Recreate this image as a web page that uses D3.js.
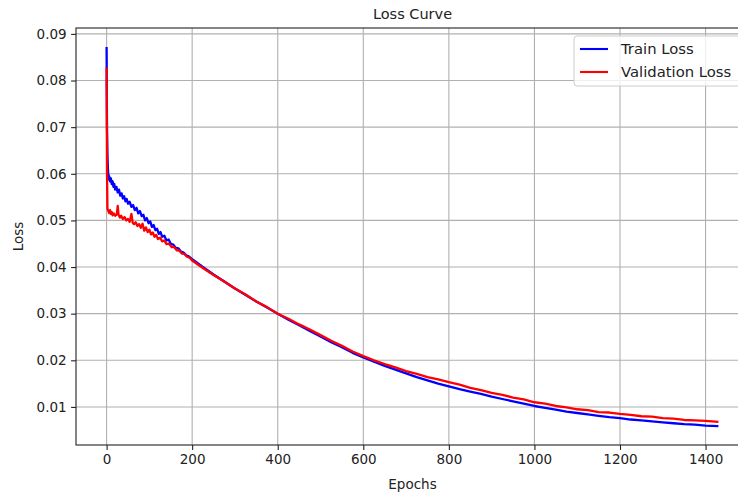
<!DOCTYPE html>
<html>
<head>
<meta charset="utf-8">
<script src="https://cdn.jsdelivr.net/npm/d3@7"></script>
<style>
  body { margin: 0; background: #fff; }
  svg { font-family: "DejaVu Sans", sans-serif; }
</style>
</head>
<body>
<svg width="738" height="495"></svg>
<script>
// values
const trainEpochs = [0, 1, 2, 3, 4, 5, 6, 8, 10, 12, 14, 16, 18, 20, 23, 26, 29, 32, 35, 38, 41, 44, 47, 50,
  54, 58, 62, 66, 70, 74, 78, 82, 86, 90, 94, 98, 102, 106, 110, 114, 118, 122, 126, 130, 135, 140, 145,
  150, 156, 162, 168, 174, 180, 186, 192, 200, 225, 250, 275, 300, 325, 350, 375, 400, 425, 450, 475,
  500, 525, 550, 575, 600, 625, 650, 675, 700, 725, 750, 775, 800, 825, 850, 875, 900, 925, 950, 975,
  1000, 1025, 1050, 1075, 1100, 1125, 1150, 1175, 1200, 1225, 1250, 1275, 1300, 1325, 1350, 1375, 1400, 1430];
const trainLoss = [0.0872, 0.0700, 0.0640, 0.0612, 0.0598, 0.0588, 0.0595, 0.0584, 0.0590, 0.0578, 0.0584,
  0.0572, 0.0578, 0.0566, 0.0572, 0.0560, 0.0566, 0.0553, 0.0558, 0.0547, 0.0552, 0.0541, 0.0546, 0.0536,
  0.0540, 0.0529, 0.0533, 0.0522, 0.0527, 0.0515, 0.0520, 0.0509, 0.0512, 0.0500, 0.0505, 0.0494, 0.0498,
  0.0486, 0.0490, 0.0479, 0.0482, 0.0471, 0.0475, 0.0465, 0.0467, 0.0457, 0.0459, 0.0450, 0.0448, 0.0441,
  0.0440, 0.0433, 0.0431, 0.0425, 0.0423, 0.0417, 0.0400, 0.0384, 0.0369, 0.0354, 0.0340, 0.0326, 0.0313,
  0.0300, 0.0287, 0.0275, 0.0263, 0.0251, 0.0239, 0.0228, 0.0216, 0.0206, 0.0197, 0.0188, 0.0180, 0.0172,
  0.0164, 0.0157, 0.0150, 0.0144, 0.0138, 0.0133, 0.0128, 0.0122, 0.0117, 0.0112, 0.0107, 0.0102, 0.0098,
  0.0094, 0.0090, 0.0087, 0.0084, 0.0081, 0.0078, 0.0076, 0.0073, 0.0071, 0.0069, 0.0067, 0.0065, 0.0063,
  0.0062, 0.0060, 0.0059];

const valEpochs = [0, 1, 2, 4, 6, 8, 10, 12, 14, 17, 20, 24, 26, 28, 31, 34, 38, 42, 46, 50, 54, 58, 61, 64,
  68, 72, 76, 80, 84, 88, 92, 96, 100, 104, 108, 112, 116, 120, 125, 130, 135, 140, 146, 152, 158, 164,
  170, 176, 182, 188, 194, 200, 225, 250, 275, 300, 325, 350, 375, 400, 425, 450, 475, 500, 525, 550,
  575, 600, 625, 650, 675, 700, 725, 750, 775, 800, 825, 850, 875, 900, 925, 950, 975, 1000, 1025, 1050,
  1075, 1100, 1125, 1150, 1175, 1200, 1225, 1250, 1275, 1300, 1325, 1350, 1375, 1400, 1430];
const valLoss = [0.0828, 0.0600, 0.0525, 0.0520, 0.0516, 0.0522, 0.0514, 0.0518, 0.0511, 0.0515, 0.0510,
  0.0513, 0.0531, 0.0512, 0.0506, 0.0510, 0.0503, 0.0507, 0.0500, 0.0503, 0.0497, 0.0514, 0.0495, 0.0492,
  0.0496, 0.0488, 0.0492, 0.0484, 0.0493, 0.0478, 0.0485, 0.0475, 0.0480, 0.0470, 0.0474, 0.0465, 0.0469,
  0.0460, 0.0463, 0.0455, 0.0457, 0.0449, 0.0450, 0.0443, 0.0443, 0.0436, 0.0435, 0.0429, 0.0428, 0.0422,
  0.0420, 0.0414, 0.0398, 0.0383, 0.0369, 0.0354, 0.0341, 0.0326, 0.0314, 0.0300, 0.0289, 0.0277, 0.0266,
  0.0254, 0.0242, 0.0231, 0.0219, 0.0209, 0.0200, 0.0192, 0.0185, 0.0177, 0.0171, 0.0164, 0.0159, 0.0153,
  0.0148, 0.0141, 0.0136, 0.0130, 0.0126, 0.0120, 0.0116, 0.0110, 0.0107, 0.0102, 0.0099, 0.0095, 0.0093,
  0.0089, 0.0088, 0.0085, 0.0083, 0.0080, 0.0079, 0.0076, 0.0075, 0.0072, 0.0071, 0.0070, 0.0068];

const xTicks = [0, 200, 400, 600, 800, 1000, 1200, 1400];
const yTicks = [0.01, 0.02, 0.03, 0.04, 0.05, 0.06, 0.07, 0.08, 0.09];

const svg = d3.select('svg');
// axes box runs past the right edge of the picture, like the reference
const box = { left: 76, top: 28, right: 749, bottom: 445 };

// matplotlib style 5% margins
const xMax = d3.max(trainEpochs);
const xPad = xMax * 0.05;
const allY = trainLoss.concat(valLoss);
const yMin = d3.min(allY), yMax = d3.max(allY);
const yPad = (yMax - yMin) * 0.05;

const x = d3.scaleLinear().domain([-xPad, xMax + xPad]).range([box.left, box.right]);
const y = d3.scaleLinear().domain([yMin - yPad, yMax + yPad]).range([box.bottom, box.top]);

// grid
const grid = svg.append('g').attr('stroke', '#b0b0b0').attr('stroke-width', 1.1);
grid.selectAll('.gx').data(xTicks).enter().append('line')
  .attr('x1', d => x(d)).attr('x2', d => x(d))
  .attr('y1', box.top).attr('y2', box.bottom);
grid.selectAll('.gy').data(yTicks).enter().append('line')
  .attr('x1', box.left).attr('x2', box.right)
  .attr('y1', d => y(d)).attr('y2', d => y(d));

// curves
const line = d3.line().x(d => x(d[0])).y(d => y(d[1]));
svg.append('path')
  .datum(d3.zip(trainEpochs, trainLoss))
  .attr('d', line).attr('fill', 'none').attr('stroke', '#0000ff').attr('stroke-width', 2.3)
  .attr('stroke-linejoin', 'round');
svg.append('path')
  .datum(d3.zip(valEpochs, valLoss))
  .attr('d', line).attr('fill', 'none').attr('stroke', '#ff0000').attr('stroke-width', 2.3)
  .attr('stroke-linejoin', 'round');

// axes
const xAxis = svg.append('g')
  .attr('transform', `translate(0, ${box.bottom})`)
  .call(d3.axisBottom(x).tickValues(xTicks).tickFormat(d3.format('d')).tickSize(4.9).tickPadding(4.5));
const yAxis = svg.append('g')
  .attr('transform', `translate(${box.left}, 0)`)
  .call(d3.axisLeft(y).tickValues(yTicks).tickFormat(d3.format('.2f')).tickSize(4.9).tickPadding(4.5));
[xAxis, yAxis].forEach(a => {
  a.select('.domain').remove();
  a.selectAll('text').attr('font-size', 13.5).attr('fill', '#222').attr('font-family', '"DejaVu Sans"');
  a.selectAll('.tick line').attr('stroke', '#222').attr('stroke-width', 1.1);
});

// spines
svg.append('rect')
  .attr('x', box.left).attr('y', box.top)
  .attr('width', box.right - box.left).attr('height', box.bottom - box.top)
  .attr('fill', 'none').attr('stroke', '#222').attr('stroke-width', 1.1);

// labels
svg.append('text').attr('x', (box.left + box.right) / 2).attr('y', 19)
  .attr('text-anchor', 'middle').attr('font-size', 14.5).attr('fill', '#222').text('Loss Curve');
svg.append('text').attr('x', (box.left + box.right) / 2).attr('y', 489)
  .attr('text-anchor', 'middle').attr('font-size', 13.5).attr('fill', '#222').text('Epochs');
svg.append('text').attr('transform', `translate(23, ${(box.top + box.bottom) / 2}) rotate(-90)`)
  .attr('text-anchor', 'middle').attr('font-size', 13.5).attr('fill', '#222').text('Loss');

// legend
const legend = svg.append('g').attr('transform', 'translate(574, 36)');
legend.append('rect').attr('width', 175).attr('height', 50).attr('rx', 3)
  .attr('fill', '#fff').attr('fill-opacity', 0.8).attr('stroke', '#cccccc').attr('stroke-width', 1);
const items = [['Train Loss', '#0000ff'], ['Validation Loss', '#ff0000']];
items.forEach((it, i) => {
  const cy = 13 + i * 23;
  legend.append('line').attr('x1', 6).attr('x2', 34).attr('y1', cy).attr('y2', cy)
    .attr('stroke', it[1]).attr('stroke-width', 2.1);
  legend.append('text').attr('x', 47).attr('y', cy + 5)
    .attr('font-size', 14.8).attr('fill', '#222').text(it[0]);
});
</script>
</body>
</html>
